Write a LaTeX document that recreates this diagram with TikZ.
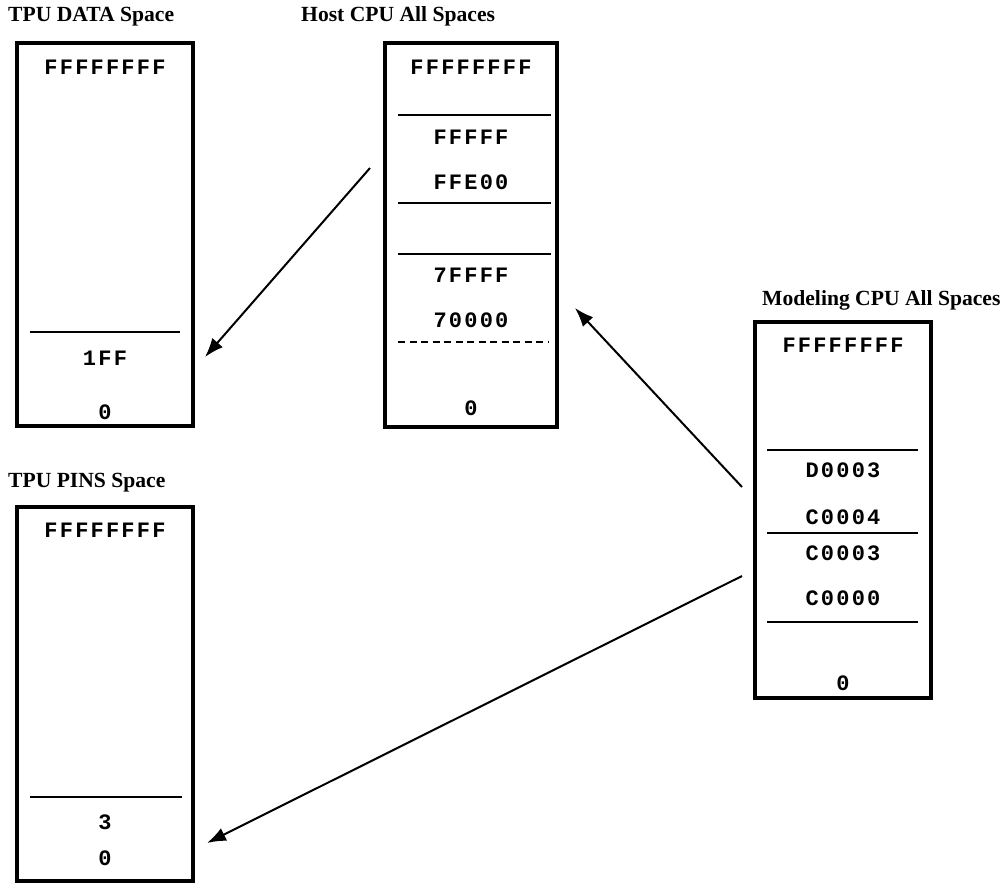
\documentclass[tikz,border=0pt]{standalone}
\usepackage{fontspec}
\setmainfont{Liberation Serif}
\newfontfamily\addrfont[LetterSpace=10]{Liberation Mono}
\usetikzlibrary{arrows.meta}

\begin{document}
\begin{tikzpicture}[x=1pt, y=-1pt, >={Latex[length=19pt, width=14pt]},
  space/.style={draw, line width=4pt, rectangle, inner sep=0pt},
  title/.style={font=\fontsize{21.6}{24}\selectfont\bfseries, anchor=base west, inner sep=0pt},
  addr/.style={font=\fontsize{22}{24}\selectfont\addrfont\bfseries, inner sep=0pt},
  divider/.style={line width=2pt},
  link/.style={->, line width=2pt}]

  \useasboundingbox (0,0) rectangle (1004,884);

  % Espacios de memoria
  \node [space, minimum width=176pt, minimum height=383pt] (tpudata) at (105,234.5) {};
  \node [space, minimum width=172pt, minimum height=384pt] (host) at (471,235) {};
  \node [space, minimum width=176pt, minimum height=376pt] (model) at (843,510) {};
  \node [space, minimum width=176pt, minimum height=374pt] (tpupins) at (105,694) {};

  % Titulos
  \node [title] (tpudata-t) at (8,21) {TPU DATA Space};
  \node [title] (host-t) at (301,21) {Host CPU All Spaces};
  \node [title] (model-t) at (762,305) {Modeling CPU All Spaces};
  \node [title] (tpupins-t) at (8,487) {TPU PINS Space};

  % Direcciones
  \foreach \y/\t in {67/FFFFFFFF, 358/1FF, 412/0}
    \node [addr] (tpudata-\y) at (tpudata |- 0,\y) {\t};
  \foreach \y/\t in {67/FFFFFFFF, 137/FFFFF, 182/FFE00, 275/7FFFF, 320/70000, 408/0}
    \node [addr] (host-\y) at (host |- 0,\y) {\t};
  \foreach \y/\t in {345/FFFFFFFF, 470/D0003, 517/C0004, 553/C0003, 598/C0000, 683/0}
    \node [addr] (model-\y) at (model |- 0,\y) {\t};
  \foreach \y/\t in {530/FFFFFFFF, 822/3, 858/0}
    \node [addr] (tpupins-\y) at (tpupins |- 0,\y) {\t};

  % Separadores
  \draw [divider] (30,332) -- (180,332);
  \foreach \y in {115, 203, 254}
    \draw [divider] (398,\y) -- (551,\y);
  \draw [divider, dash pattern=on 7pt off 4.5pt] (398,342) -- (549,342);
  \foreach \y in {450, 533, 622}
    \draw [divider] (767,\y) -- (918,\y);
  \draw [divider] (30,797) -- (182,797);

  % Correspondencias
  \coordinate (host-out) at (370,168);
  \coordinate (tpudata-in) at (205,357);
  \coordinate (model-out1) at (742,487);
  \coordinate (host-in) at (575,308);
  \coordinate (model-out2) at (742,576);
  \coordinate (tpupins-in) at (207,843);
  \draw [link] (host-out) -- (tpudata-in);
  \draw [link] (model-out1) -- (host-in);
  \draw [link] (model-out2) -- (tpupins-in);
\end{tikzpicture}
\end{document}
